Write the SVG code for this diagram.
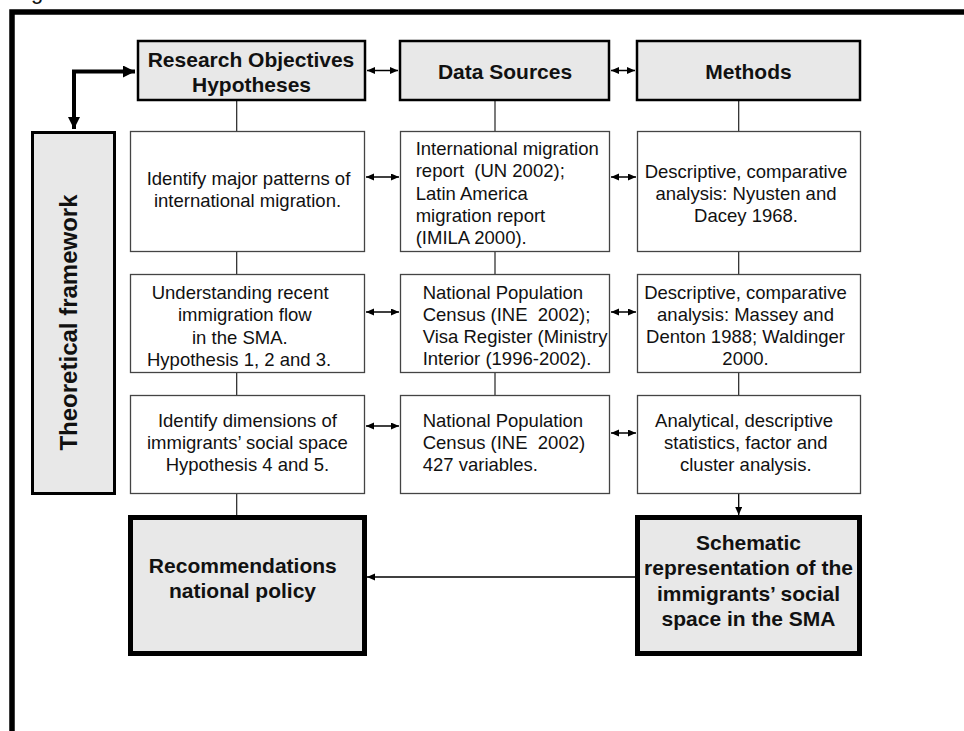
<svg xmlns="http://www.w3.org/2000/svg" width="964" height="731" viewBox="0 0 964 731">
<defs>
<style>
.hdr{fill:#e8e8e8;stroke:#000;stroke-width:2.5}
.cell{fill:#fff;stroke:#444;stroke-width:1.3}
.res{fill:#e8e8e8;stroke:#000;stroke-width:5}
.tf{fill:#e8e8e8;stroke:#000;stroke-width:3}
.b{font-family:"Liberation Sans",Arial,sans-serif;font-weight:bold;font-size:21px;fill:#111}
.r{font-family:"Liberation Sans",Arial,sans-serif;font-size:18.5px;fill:#111}
.c{text-anchor:middle}
.ln{stroke:#222;stroke-width:1.2;fill:none}
.dbl{stroke:#000;stroke-width:1.5;fill:none;marker-start:url(#sa);marker-end:url(#sa)}
.one{stroke:#000;stroke-width:1.3;fill:none;marker-end:url(#sa)}
.thick{stroke:#000;stroke-width:4;fill:none;marker-end:url(#ta)}
</style>
<marker id="sa" markerUnits="userSpaceOnUse" markerWidth="9" markerHeight="8" refX="8" refY="3.5" orient="auto-start-reverse">
<path d="M0,0 L8,3.5 L0,7 z" fill="#000"/>
</marker>
<marker id="ta" markerUnits="userSpaceOnUse" markerWidth="13" markerHeight="13" refX="12" refY="6" orient="auto">
<path d="M0,0 L12,6 L0,12 z" fill="#000"/>
</marker>
</defs>
<rect width="964" height="731" fill="#fff"/>
<text x="31" y="-1.5" style="font-family:'Liberation Sans',Arial,sans-serif;font-size:22px;fill:#111">g</text>
<g id="frame">
<path d="M12,731 V12 H964" stroke="#000" stroke-width="5.5" fill="none"/>
</g>
<g id="connectors">
<path class="thick" d="M74,128 V71.5 H135"/>
<path class="thick" d="M74,71.5 V129"/>
<line class="dbl" x1="367" y1="70.5" x2="398" y2="70.5"/>
<line class="dbl" x1="611" y1="70.5" x2="635" y2="70.5"/>
<line class="dbl" x1="366" y1="177" x2="399" y2="177"/>
<line class="dbl" x1="611" y1="177" x2="636" y2="177"/>
<line class="dbl" x1="366" y1="312" x2="399" y2="312"/>
<line class="dbl" x1="611" y1="312" x2="636" y2="312"/>
<line class="dbl" x1="366" y1="426" x2="399" y2="426"/>
<line class="dbl" x1="611" y1="433" x2="636" y2="433"/>
<line class="ln" x1="236.7" y1="101" x2="236.7" y2="131"/>
<line class="ln" x1="236.7" y1="252" x2="236.7" y2="274"/>
<line class="ln" x1="236.7" y1="373" x2="236.7" y2="395"/>
<line class="ln" x1="236.7" y1="494" x2="236.7" y2="515"/>
<line class="ln" x1="495" y1="101" x2="495" y2="131"/>
<line class="ln" x1="495" y1="252" x2="495" y2="274"/>
<line class="ln" x1="495" y1="373" x2="495" y2="395"/>
<line class="ln" x1="738.7" y1="101" x2="738.7" y2="131"/>
<line class="ln" x1="738.7" y1="252" x2="738.7" y2="274"/>
<line class="ln" x1="738.7" y1="373" x2="738.7" y2="395"/>
<line class="one" x1="738.7" y1="494" x2="738.7" y2="515"/>
<line class="one" x1="635" y1="577" x2="367" y2="577"/>
</g>
<g id="n-objectives">
<rect class="hdr" x="138" y="41" width="227" height="59"/>
<text class="b c" x="251" y="66.7">Research Objectives</text>
<text class="b c" x="251.5" y="91.7">Hypotheses</text>
</g>
<g id="n-datasources">
<rect class="hdr" x="400" y="41" width="209" height="59"/>
<text class="b c" x="505" y="79.3">Data Sources</text>
</g>
<g id="n-methods">
<rect class="hdr" x="637" y="41" width="223" height="59"/>
<text class="b c" x="748.5" y="79.3">Methods</text>
</g>
<g id="n-theory">
<rect class="tf" x="32.5" y="132.5" width="82" height="361"/>
<text class="b c" style="font-size:24px" transform="translate(77,322.5) rotate(-90)">Theoretical framework</text>
</g>
<g id="n-r1-obj">
<rect class="cell" x="130.5" y="131.5" width="234" height="120"/>
<text class="r c" x="248.5" y="185">Identify major patterns of</text>
<text class="r c" x="247.5" y="207">international migration.</text>
</g>
<g id="n-r1-data">
<rect class="cell" x="400.5" y="131.5" width="209" height="120"/>
<text class="r" x="415.7" y="155">International migration</text>
<text class="r" x="415.7" y="177.3" xml:space="preserve">report  (UN 2002);</text>
<text class="r" x="415.7" y="199.6">Latin America</text>
<text class="r" x="415.7" y="221.9">migration report</text>
<text class="r" x="415.7" y="244.2">(IMILA 2000).</text>
</g>
<g id="n-r1-meth">
<rect class="cell" x="637.5" y="131.5" width="223" height="120"/>
<text class="r c" x="746" y="178">Descriptive, comparative</text>
<text class="r c" x="746" y="200">analysis: Nyusten and</text>
<text class="r c" x="746" y="222">Dacey 1968.</text>
</g>
<g id="n-r2-obj">
<rect class="cell" x="130.5" y="274.5" width="234" height="98"/>
<text class="r" x="151.7" y="299.3">Understanding recent</text>
<text class="r" x="178" y="321.4">immigration flow</text>
<text class="r" x="192" y="343.5">in the SMA.</text>
<text class="r" x="147" y="365.7">Hypothesis 1, 2 and 3.</text>
</g>
<g id="n-r2-data">
<rect class="cell" x="400.5" y="274.5" width="209" height="98"/>
<text class="r" x="422.7" y="298.5">National Population</text>
<text class="r" x="422.7" y="320.6" xml:space="preserve">Census (INE  2002);</text>
<text class="r" x="422.7" y="342.7">Visa Register (Ministry</text>
<text class="r" x="422.7" y="364.8">Interior (1996-2002).</text>
</g>
<g id="n-r2-meth">
<rect class="cell" x="637.5" y="274.5" width="223" height="98"/>
<text class="r c" x="745.5" y="299">Descriptive, comparative</text>
<text class="r c" x="745.5" y="321">analysis: Massey and</text>
<text class="r c" x="745.5" y="343">Denton 1988; Waldinger</text>
<text class="r c" x="745.5" y="365">2000.</text>
</g>
<g id="n-r3-obj">
<rect class="cell" x="130.5" y="395.5" width="234" height="98"/>
<text class="r c" x="247.4" y="426.8">Identify dimensions of</text>
<text class="r c" x="247.4" y="449">immigrants’ social space</text>
<text class="r c" x="247.4" y="471.3">Hypothesis 4 and 5.</text>
</g>
<g id="n-r3-data">
<rect class="cell" x="400.5" y="395.5" width="209" height="98"/>
<text class="r" x="422.7" y="426.8">National Population</text>
<text class="r" x="422.7" y="449" xml:space="preserve">Census (INE  2002)</text>
<text class="r" x="422.7" y="471.3">427 variables.</text>
</g>
<g id="n-r3-meth">
<rect class="cell" x="637.5" y="395.5" width="223" height="98"/>
<text class="r c" x="744" y="426.8">Analytical, descriptive</text>
<text class="r c" x="745.8" y="449">statistics, factor and</text>
<text class="r c" x="745.8" y="471.3">cluster analysis.</text>
</g>
<g id="n-recommend">
<rect class="res" x="130.5" y="517.5" width="234" height="136"/>
<text class="b c" x="242.8" y="572.7">Recommendations</text>
<text class="b c" x="242.5" y="598">national policy</text>
</g>
<g id="n-schematic">
<rect class="res" x="637.5" y="517.5" width="222" height="136"/>
<text class="b c" x="748.5" y="550">Schematic</text>
<text class="b c" x="748.5" y="575.3">representation of the</text>
<text class="b c" x="748.5" y="600.6">immigrants’ social</text>
<text class="b c" x="748.5" y="626">space in the SMA</text>
</g>
</svg>
